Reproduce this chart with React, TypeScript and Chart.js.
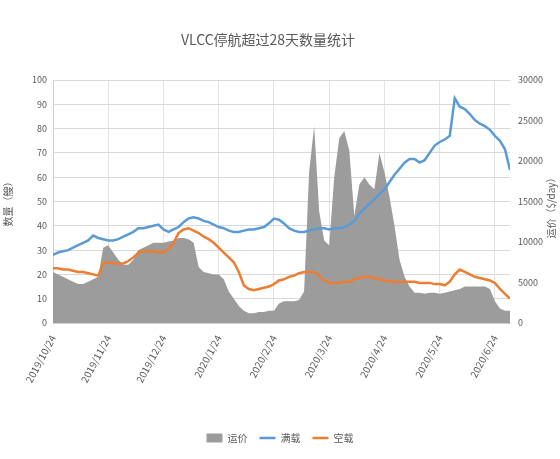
import React, { useEffect, useRef } from "react";
import { Chart, registerables } from "chart.js";

Chart.register(...registerables);

const chartTitle = "VLCC停航超过28天数量统计";
const leftAxisTitle = "数量（艘）";
const rightAxisTitle = "运价（$/day）";
const seriesNames = ["运价", "满载", "空载"];

const xTickLabels = [
  "2019/10/24", "2019/11/24", "2019/12/24", "2020/1/24", "2020/2/24",
  "2020/3/24", "2020/4/24", "2020/5/24", "2020/6/24",
];

// 运价 (right axis)
const freight = [
  6300, 6000, 5700, 5400, 5100, 4800, 4800, 5100, 5400, 5700,
  9300, 9600, 8700, 7800, 7200, 7200, 7800, 9000, 9300, 9600,
  9900, 9900, 9900, 10050, 10200, 10500, 10500, 10350, 9900, 6900,
  6300, 6150, 6000, 6000, 5400, 3900, 3000, 2100, 1500, 1200,
  1200, 1350, 1350, 1500, 1500, 2400, 2700, 2700, 2700, 2850,
  3900, 18600, 24300, 13800, 10200, 9600, 18000, 22800, 23700, 21300,
  13200, 17100, 18000, 17100, 16500, 21000, 18600, 15600, 12000, 7800,
  5700, 4500, 3750, 3750, 3600, 3750, 3750, 3600, 3750, 3900,
  4050, 4200, 4500, 4500, 4500, 4500, 4500, 4200, 2700, 1800,
  1500, 1500,
];

// 满载 (left axis)
const laden = [
  28, 29, 29.5, 30, 31, 32, 33, 34, 36, 35,
  34.5, 34, 34, 34.5, 35.5, 36.5, 37.5, 39, 39, 39.5,
  40, 40.5, 38.5, 37.5, 38.5, 39.5, 41.5, 43, 43.5, 43,
  42, 41.5, 40.5, 39.5, 39, 38, 37.5, 37.5, 38, 38.5,
  38.5, 39, 39.5, 41, 43, 42.5, 41, 39, 38, 37.5,
  37.5, 38, 38.5, 39, 39, 38.5, 39, 39, 39.5, 40.5,
  42, 45, 47, 49, 51, 53, 55, 58, 61, 63.5,
  66, 67.5, 67.5, 66, 67, 70, 73, 74.5, 75.5, 77,
  92.5, 89, 88, 86, 83.5, 82, 81, 79.5, 77, 75,
  71.5, 63,
];

// 空载 (left axis)
const ballast = [
  22.5, 22.5, 22, 22, 21.5, 21, 21, 20.5, 20, 19.5,
  24.5, 25, 24.5, 24.5, 24.5, 25.5, 27, 29, 29.5, 29.5,
  29.5, 29, 29, 30.5, 33, 37, 38.5, 39, 38, 37,
  35.5, 34.5, 33, 31, 29, 27, 25, 21, 15.5, 14,
  13.5, 14, 14.5, 15, 16, 17.5, 18, 19, 19.5, 20.5,
  21, 21, 21, 19.5, 17.5, 16.5, 16.5, 16.5, 17, 17,
  18, 18.5, 19, 19, 18.5, 18, 17.5, 17, 17, 17,
  17, 17, 17, 16.5, 16.5, 16.5, 16, 16, 15.5, 17,
  20, 22, 21, 20, 19, 18.5, 18, 17.5, 16.5, 14,
  12, 10,
];

const FONT = "'Noto Sans CJK SC', 'Liberation Sans', sans-serif";
const TEXT = "#595959";

export default function App() {
  const ref = useRef<HTMLCanvasElement>(null);

  useEffect(() => {
    document.body.style.margin = "0";
    const toPts = (arr: number[]) => arr.map((v, i) => ({ x: i, y: v }));
    const step = 11;
    const textPlugin = {
      id: "texts",
      afterDraw(chart: any) {
        const ctx = chart.ctx;
        ctx.save();
        ctx.fillStyle = TEXT;
        ctx.font = `14px ${FONT}`;
        ctx.textAlign = "center";
        ctx.textBaseline = "middle";
        ctx.fillText(chartTitle, 268, 40);
        const ca = chart.chartArea;
        ctx.font = `10px ${FONT}`;
        ctx.translate(551, (ca.top + ca.bottom) / 2 + 4);
        ctx.rotate(-Math.PI / 2);
        ctx.fillText(rightAxisTitle, 0, 0);
        ctx.restore();
      },
    };
    const chart = new Chart(ref.current as HTMLCanvasElement, {
      type: "line",
      data: {
        datasets: [
          {
            label: seriesNames[0],
            data: toPts(freight),
            yAxisID: "y1",
            fill: "origin",
            backgroundColor: "#9C9C9C",
            borderColor: "#9C9C9C",
            borderWidth: 0,
            pointRadius: 0,
            pointStyle: "rect",
            order: 2,
          },
          {
            label: seriesNames[1],
            data: toPts(laden),
            yAxisID: "y",
            fill: false,
            borderColor: "#5B9BD5",
            backgroundColor: "#5B9BD5",
            borderWidth: 2.5,
            pointRadius: 0,
            pointStyle: "line",
            order: 0,
          },
          {
            label: seriesNames[2],
            data: toPts(ballast),
            yAxisID: "y",
            fill: false,
            borderColor: "#ED7D31",
            backgroundColor: "#ED7D31",
            borderWidth: 2.5,
            pointRadius: 0,
            pointStyle: "line",
            order: 1,
          },
        ],
      },
      options: {
        responsive: false,
        animation: false,
        layout: { padding: { top: 80, bottom: 6, left: 0, right: 0 } },
        scales: {
          x: {
            type: "linear",
            min: 0,
            max: freight.length - 1,
            ticks: {
              stepSize: step,
              autoSkip: false,
              includeBounds: false,
              maxRotation: 62,
              minRotation: 62,
              padding: 10,
              color: TEXT,
              font: { size: 10, family: FONT },
              callback: (v: any) => {
                const k = Math.round(Number(v) / step);
                return Number(v) % step === 0 ? xTickLabels[k] ?? "" : "";
              },
            },
            grid: { color: "#E3E3E3", drawTicks: false },
            border: { color: "#D0D0D0" },
            afterFit: (s: any) => {
              s.height = 98;
            },
          },
          y: {
            position: "left",
            min: 0,
            max: 100,
            ticks: { stepSize: 10, color: TEXT, font: { size: 9, family: FONT }, padding: 6 },
            grid: { color: "#D9D9D9", drawTicks: false },
            border: { color: "#D0D0D0" },
            title: {
              display: true,
              text: leftAxisTitle,
              color: TEXT,
              font: { size: 10, family: FONT },
              padding: 2,
            },
            afterFit: (s: any) => {
              s.width = 53;
            },
          },
          y1: {
            position: "right",
            min: 0,
            max: 30000,
            ticks: {
              stepSize: 5000,
              color: TEXT,
              font: { size: 9, family: FONT },
              padding: 8,
              callback: (v: any) => String(v),
            },
            grid: { display: false, drawTicks: false },
            border: { display: false },
            afterFit: (s: any) => {
              s.width = 50;
            },
          },
        },
        plugins: {
          title: { display: false },
          tooltip: { enabled: false },
          legend: {
            position: "bottom",
            labels: {
              usePointStyle: true,
              pointStyleWidth: 16,
              boxHeight: 9,
              padding: 12,
              color: TEXT,
              font: { size: 10, family: FONT },
              sort: (a: any, b: any) => a.datasetIndex - b.datasetIndex,
            },
          },
        },
      },
      plugins: [textPlugin],
    } as any);
    return () => chart.destroy();
  }, []);

  return (
    <canvas
      ref={ref}
      width={560}
      height={459}
      style={{ display: "block", width: 560, height: 459 }}
    />
  );
}
